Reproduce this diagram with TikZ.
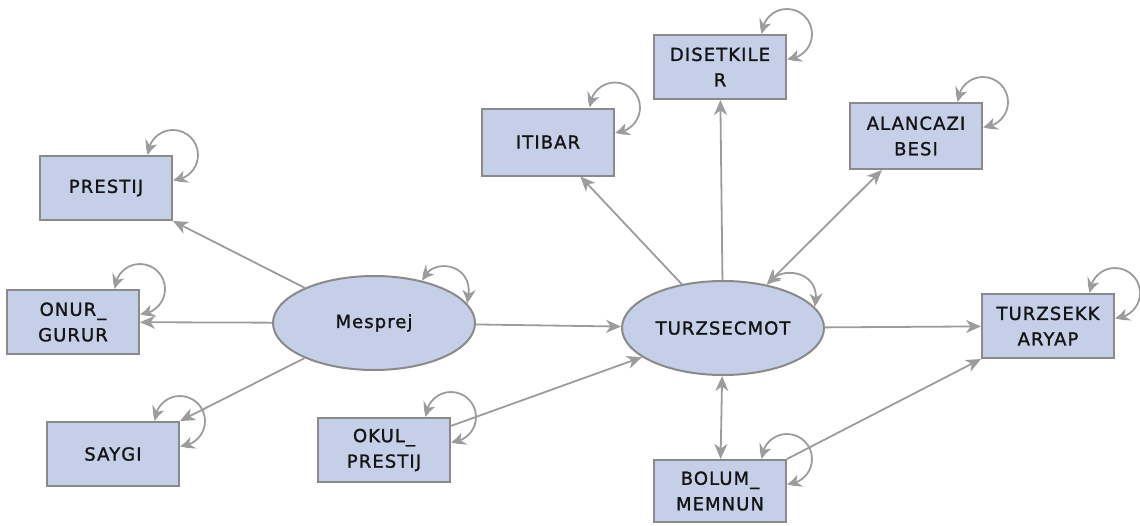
\documentclass[tikz,border=0pt]{standalone}
\usepackage{fontspec}
\setmainfont[LetterSpace=6,FakeBold=1.3]{DejaVu Sans}
\usetikzlibrary{shapes.geometric,arrows.meta,bending}
\definecolor{boxfill}{HTML}{C5CFE7}
\definecolor{boxline}{HTML}{8A8A8A}
\definecolor{arr}{HTML}{9C9C9C}
\definecolor{txt}{HTML}{141414}
\tikzset{
  lbl/.style={text=txt, font=\fontsize{18}{25.5}\selectfont},
  obs/.style={lbl, draw=boxline, line width=2pt, fill=boxfill, rectangle, minimum width=132pt, minimum height=64pt, inner sep=0pt, align=center},
  lat/.style={lbl, draw=boxline, line width=2pt, fill=boxfill, ellipse, minimum width=202pt, minimum height=94pt, inner sep=0pt, align=center},
  conn/.style={draw=arr, line width=1.8pt, -{Stealth[length=15pt,width=13pt,inset=4.5pt]}},
  bconn/.style={draw=arr, line width=1.8pt, {Stealth[length=15pt,width=13pt,inset=4.5pt]}-{Stealth[length=15pt,width=13pt,inset=4.5pt]}},
  selfloop/.style={draw=arr, line width=1.8pt, {Stealth[length=14pt,width=13pt,inset=4.5pt,bend]}-{Stealth[length=14pt,width=13pt,inset=4.5pt,bend]}},
}
\begin{document}
\begin{tikzpicture}[x=1pt,y=-1pt]
\useasboundingbox (0,0) rectangle (1140,525);
% nodes
\node[obs] (P) at (106,188) {PRESTIJ};
\node[obs] (O) at (73,322) {ONUR\_\\GURUR};
\node[obs] (S) at (113,454) {SAYGI};
\node[lat] (M) at (374,323) {Mesprej};
\node[lat] (T) at (723,328) {TURZSECMOT};
\node[obs, minimum height=67pt] (I) at (548,142) {ITIBAR};
\node[obs] (D) at (720,67) {DISETKILE\\R};
\node[obs, minimum height=66pt] (A) at (916,136) {ALANCAZI\\BESI};
\node[obs] (K) at (1048,326) {TURZSEKK\\ARYAP};
\node[obs] (OK) at (384,450) {OKUL\_\\PRESTIJ};
\node[obs, minimum height=62pt] (B) at (720,491) {BOLUM\_\\MEMNUN};
% connectors
\draw[conn] (M) -- (P.south east);
\draw[conn] (M) -- (O);
\draw[conn] (M) -- (S.north east);
\draw[conn] (M) -- (T);
\draw[conn] (T) -- (I);
\draw[conn] (T) -- (D);
\draw[bconn] (T) -- (A);
\draw[bconn] (T) -- (B);
\draw[conn] (OK) -- (T);
\draw[conn] (T) -- (K);
\draw[conn] (B.north east) -- (K.south west);
% self loops on boxes
\foreach \n in {P,O,S,I,D,A,K,OK,B}{
  \draw[selfloop] ([xshift=-25pt]\n.north east) arc[start angle=180, end angle=-90, radius=25pt];
}
% self loops on ellipses
\draw[selfloop] (M.41) .. controls +(7,-25) and +(12,-41) .. (M.12);
\draw[selfloop] (T.44) .. controls +(10,-21) and +(10,-37) .. (T.13.6);
\end{tikzpicture}
\end{document}
